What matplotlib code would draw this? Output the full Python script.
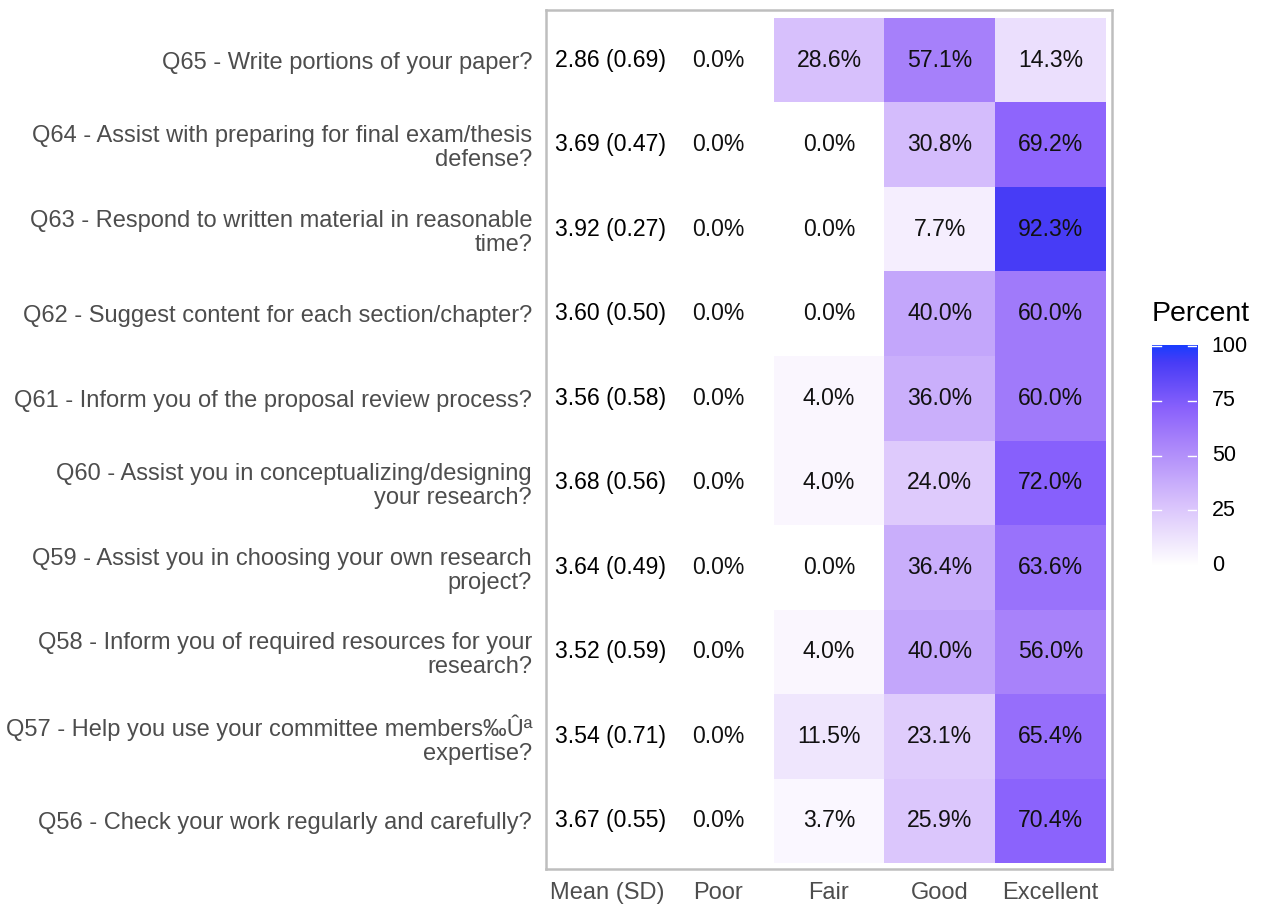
import textwrap
import numpy as np
import matplotlib
matplotlib.use("Agg")
import matplotlib.pyplot as plt
from matplotlib.colors import LinearSegmentedColormap


QUESTIONS = [
    "Q65 - Write portions of your paper?",
    "Q64 - Assist with preparing for final exam/thesis defense?",
    "Q63 - Respond to written material in reasonable time?",
    "Q62 - Suggest content for each section/chapter?",
    "Q61 - Inform you of the proposal review process?",
    "Q60 - Assist you in conceptualizing/designing your research?",
    "Q59 - Assist you in choosing your own research project?",
    "Q58 - Inform you of required resources for your research?",
    "Q57 - Help you use your committee members\u2030\u00db\u00aa expertise?",
    "Q56 - Check your work regularly and carefully?",
]

COLUMNS = ["Mean (SD)", "Poor", "Fair", "Good", "Excellent"]

means = [2.86, 3.69, 3.92, 3.60, 3.56, 3.68, 3.64, 3.52, 3.54, 3.67]
sds = [0.69, 0.47, 0.27, 0.50, 0.58, 0.56, 0.49, 0.59, 0.71, 0.55]
poor = [0.0, 0.0, 0.0, 0.0, 0.0, 0.0, 0.0, 0.0, 0.0, 0.0]
fair = [28.6, 0.0, 0.0, 0.0, 4.0, 4.0, 0.0, 4.0, 11.5, 3.7]
good = [57.1, 30.8, 7.7, 40.0, 36.0, 24.0, 36.4, 40.0, 23.1, 25.9]
excellent = [14.3, 69.2, 92.3, 60.0, 60.0, 72.0, 63.6, 56.0, 65.4, 70.4]

LEGEND_TICKS = [0, 25, 50, 75, 100]

plt.rcParams["font.family"] = ["Liberation Sans", "DejaVu Sans"]

cmap = LinearSegmentedColormap.from_list(
    "percent",
    [(0.0, "#FFFFFF"), (0.143, "#EBDFFD"), (0.286, "#D7C0FC"),
     (0.571, "#A680FA"), (0.704, "#8C63FC"), (0.923, "#483CF6"),
     (1.0, "#1A3CFF")],
)

fig = plt.figure(figsize=(12.61, 9.07), dpi=100)
ax = fig.add_axes([0.433, 0.0424, 0.4488, 0.9471])

n_rows = len(QUESTIONS)
pct = np.array([poor, fair, good, excellent]).T  # rows x 4
grid = np.full((n_rows, 5), np.nan)
grid[:, 1:] = pct
masked = np.ma.masked_invalid(grid)

x_edges = np.arange(6) - 0.5
y_edges = np.arange(n_rows + 1) - 0.5
ax.pcolormesh(x_edges, y_edges, masked, cmap=cmap, vmin=0, vmax=100)

for r in range(n_rows):
    ax.text(0.03, r, f"{means[r]:.2f} ({sds[r]:.2f})", ha="center", va="center",
            fontsize=16.6, color="black")
    for c in range(4):
        ax.text(c + 1, r, f"{pct[r, c]:.1f}%", ha="center", va="center",
                fontsize=16.6, color="#111111")

ax.set_xlim(-0.554, 4.554)
ax.set_ylim(9.565, -0.6)

ax.set_xticks(range(5))
ax.set_xticklabels(COLUMNS, fontsize=17, color="#4D4D4D")
ax.set_yticks(range(n_rows))
wrapped = ["\n".join(textwrap.wrap(q, 49)) for q in QUESTIONS]
ax.set_yticklabels(wrapped, fontsize=17, color="#4D4D4D", linespacing=1.12)
ax.tick_params(axis="both", length=0)
ax.tick_params(axis="y", pad=10)
ax.tick_params(axis="x", pad=10)

for spine in ax.spines.values():
    spine.set_color("#BEBEBE")
    spine.set_linewidth(1.8)

# colour bar legend
cax = fig.add_axes([0.9135, 0.377, 0.0357, 0.248])
gradient = np.linspace(0, 100, 256).reshape(-1, 1)
cax.imshow(gradient, cmap=cmap, aspect="auto", origin="lower",
           extent=[0, 1, 0, 100], vmin=0, vmax=100)
cax.set_xlim(0, 1)
cax.set_ylim(0, 102.7)
for t in LEGEND_TICKS:
    cax.plot([0, 0.2], [t, t], color="white", lw=1)
    cax.plot([0.8, 1], [t, t], color="white", lw=1)
    cax.text(1.33, t, str(t), ha="left", va="center", fontsize=15.5,
             color="black", transform=cax.transData)
cax.set_xticks([])
cax.set_yticks([])
for spine in cax.spines.values():
    spine.set_visible(False)
cax.text(0, 1.06, "Percent", transform=cax.transAxes, ha="left",
         va="bottom", fontsize=20.5, color="black")

fig.savefig("out.png", dpi=100)
